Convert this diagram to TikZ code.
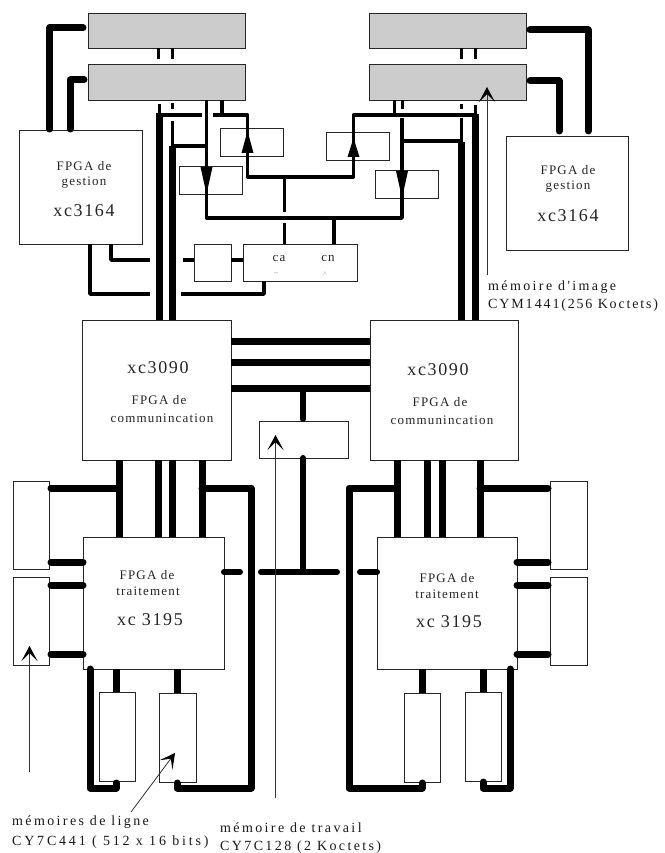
\documentclass[tikz,border=0pt]{standalone}
\usepackage{fontspec}
\setmainfont[LetterSpace=9]{Liberation Serif}
\newfontfamily\captf[LetterSpace=17]{Liberation Serif}
\newfontfamily\captn[LetterSpace=13]{Liberation Serif}
\newfontfamily\captw[LetterSpace=20]{Liberation Serif}
\usetikzlibrary{arrows.meta}
\newcommand\NW[3]{([shift={(#2,#3)}]#1.north west)}
\tikzset{
  x=1pt,y=-1pt,
  boxa/.style={draw=black!85,line width=0.9pt,fill=white,anchor=north west,inner sep=0pt,outer sep=0pt,minimum width=#1},
  grayb/.style={draw=black!85,line width=0.9pt,fill=black!20,anchor=north west,inner sep=0pt,outer sep=0pt,minimum width=157pt},
  busw/.style={line width=7pt,line cap=round,line join=round},
  busm/.style={line width=6pt,line cap=round,line join=round},
  wire/.style={line width=3.6pt,line join=round},
  dashw/.style={line width=3pt},
  plain/.style={line width=7pt},
  pointer/.style={line width=0.8pt,draw=black!80,-{Stealth[length=15pt,width=16pt,inset=8pt,black]}},
  head/.style={fill=black},
  lab/.style={font=\fontsize{13}{13}\selectfont,inner sep=0pt,text=black!85},
  labb/.style={font=\fontsize{18}{18}\selectfont,inner sep=0pt,text=black!85},
  capt/.style={font=\captf\fontsize{14}{14}\selectfont,inner sep=0pt,anchor=west,text=black!90},
  captb/.style={font=\captn\fontsize{14}{14}\selectfont,inner sep=0pt,anchor=west,text=black!90},
  captc/.style={font=\captw\fontsize{14}{14}\selectfont,inner sep=0pt,anchor=west,text=black!90},
}
\begin{document}
\begin{tikzpicture}
\useasboundingbox (0,0) rectangle (664,853);
% boxes
\node[grayb,minimum height=35pt] (gA) at (88,13) {};
\node[grayb,minimum height=36pt] (gB) at (88,64) {};
\node[grayb,minimum height=35pt] (gC) at (369,13) {};
\node[grayb,minimum height=36pt] (gD) at (369,64) {};
\node[boxa=123pt,minimum height=114pt] (gestL) at (19,130) {};
\node[boxa=122pt,minimum height=114pt] (gestR) at (506,136) {};
\node[boxa=149pt,minimum height=140pt] (comL) at (82,320) {};
\node[boxa=148pt,minimum height=140pt] (comR) at (370,320) {};
\node[boxa=141pt,minimum height=132pt] (trL) at (83,537) {};
\node[boxa=140pt,minimum height=132pt] (trR) at (377,537) {};
\node[boxa=36pt,minimum height=88pt] (sLa) at (13,481) {};
\node[boxa=36pt,minimum height=88pt] (sLb) at (13,577) {};
\node[boxa=37pt,minimum height=88pt] (sRa) at (550,481) {};
\node[boxa=37pt,minimum height=88pt] (sRb) at (550,577) {};
\node[boxa=36pt,minimum height=89pt] (mLa) at (99,692) {};
\node[boxa=37pt,minimum height=89pt] (mLb) at (159,693) {};
\node[boxa=36pt,minimum height=89pt] (mRa) at (404,693) {};
\node[boxa=36pt,minimum height=89pt] (mRb) at (465,692) {};
\node[boxa=89pt,minimum height=37pt] (trav) at (259,421) {};
\node[boxa=37pt,minimum height=37pt] (sq) at (194,244) {};
\node[boxa=114pt,minimum height=37pt] (cc) at (243,244) {};
\node[boxa=63pt,minimum height=28pt] (la) at (220,128) {};
\node[boxa=63pt,minimum height=28pt] (lb) at (179,166) {};
\node[boxa=63pt,minimum height=28pt] (lc) at (326,132) {};
\node[boxa=63pt,minimum height=28pt] (ld) at (375,170) {};
% free ends of the pointers
\coordinate (pa) at (29.5,772);
\coordinate (pb) at (275.5,798);
\coordinate (pc) at (131,812);
\coordinate (pd) at (487,275);
% gestion to memories
\draw[busw] \NW{gestL}{30.5}{-1} |- \NW{gA}{-5}{15};
\draw[busw] \NW{gestL}{51}{-1} |- \NW{gB}{-4}{16};
\draw[busw] \NW{gC}{161}{17} -| \NW{gestR}{82}{-5};
\draw[busw] \NW{gD}{161}{17} -| \NW{gestR}{53}{-5};
% between memories
\draw[dashw] \NW{gA}{70.5}{35} -- \NW{gA}{70.5}{46};
\draw[dashw] \NW{gA}{84.5}{35} -- \NW{gA}{84.5}{46};
\draw[dashw] \NW{gC}{92.5}{35} -- \NW{gC}{92.5}{46};
\draw[dashw] \NW{gC}{106.5}{35} -- \NW{gC}{106.5}{46};
% left memory buses
\draw[dashw] \NW{gB}{71}{40} -- \NW{gB}{71}{50};
\draw[plain] \NW{gB}{71}{49} -- \NW{comL}{77}{0};
\draw[dashw] \NW{gB}{84.5}{39} -- \NW{gB}{84.5}{45};
\draw[dashw] \NW{gB}{84.5}{57} -- \NW{gB}{84.5}{82};
\draw[plain] \NW{comL}{90.5}{-174} -- \NW{comL}{90.5}{0};
\draw[wire] \NW{comL}{90.5}{-174} -- \NW{lb}{27.5}{-20};
\draw[wire] \NW{gB}{71}{51} -- \NW{gB}{114}{51};
% right memory buses
\draw[dashw] \NW{gD}{92}{40} -- \NW{gD}{92}{45};
\draw[dashw] \NW{gD}{92}{54} -- \NW{gD}{92}{78};
\draw[plain] \NW{comR}{91}{-178} -- \NW{comR}{91}{0};
\draw[wire] \NW{ld}{27}{-29} -- \NW{comR}{91}{-179};
\draw[dashw] \NW{gD}{106}{41} -- \NW{gD}{106}{50};
\draw[plain] \NW{gD}{106}{50} -- \NW{comR}{105}{0};
% latch loops
\draw[wire] \NW{gB}{125}{51} -| \NW{la}{27.5}{49} -| \NW{lc}{27.5}{-17} -- \NW{gD}{106}{51};
\draw[wire] \NW{gB}{118.5}{36} |- \NW{ld}{27}{48} -- \NW{ld}{27}{-52};
\draw[wire] \NW{gB}{134}{36} -- \NW{gB}{134}{51};
\draw[wire] \NW{gD}{25.5}{36} -- \NW{gD}{25.5}{51};
\draw[wire] \NW{gD}{33.5}{36} -- \NW{gD}{33.5}{45};
\fill[head] \NW{la}{27.5}{3} -- \NW{la}{33.5}{25} -- \NW{la}{21.5}{25} -- cycle;
\fill[head] \NW{lc}{27.5}{6} -- \NW{lc}{33.5}{25} -- \NW{lc}{21.5}{25} -- cycle;
\fill[head] \NW{lb}{27.5}{28} -- \NW{lb}{33.5}{1} -- \NW{lb}{21.5}{1} -- cycle;
\fill[head] \NW{ld}{27}{28} -- \NW{ld}{33}{1} -- \NW{ld}{21}{1} -- cycle;
% into the ca/cn block
\draw[dashw] \NW{cc}{41}{-67} -- \NW{cc}{41}{-32};
\draw[dashw] \NW{cc}{41}{-21} -- \NW{cc}{41}{0};
\draw[wire] \NW{cc}{91}{-26} -- \NW{cc}{91}{0};
\draw[wire] \NW{cc}{21}{37} |- \NW{cc}{-62}{50};
\draw[wire] \NW{gestL}{71}{114} |- \NW{gestL}{131}{164};
\draw[wire] \NW{gestL}{92}{114} |- \NW{gestL}{131}{130};
\draw[wire] \NW{sq}{-11}{16} -- \NW{sq}{0}{16};
\draw[wire] \NW{sq}{37}{16} -- \NW{cc}{0}{16};
% communication links
\draw[plain] \NW{comL}{149}{21} -- \NW{comR}{0}{21};
\draw[plain] \NW{comL}{149}{42} -- \NW{comR}{0}{42};
\draw[plain] \NW{comL}{149}{68} -- \NW{comR}{0}{68};
\draw[busm] \NW{comL}{221}{68} -- \NW{trav}{44}{-2};
\draw[busm] \NW{trav}{44}{37} -- \NW{trav}{44}{151};
\draw[busm] \NW{trav}{2}{151} -- \NW{trav}{78}{151};
\draw[busm] \NW{trL}{141}{35} -- \NW{trL}{157}{35};
\draw[busm] \NW{trR}{-17}{35} -- \NW{trR}{0}{35};
% lower left
\draw[plain] \NW{comL}{37}{140} -- \NW{trL}{36}{0};
\draw[plain] \NW{comL}{76}{140} -- \NW{trL}{75}{0};
\draw[plain] \NW{comL}{90.5}{140} -- \NW{trL}{89.5}{0};
\draw[plain] \NW{comL}{120}{140} -- \NW{trL}{119}{0};
\draw[busw] \NW{comL}{37}{168} -- \NW{sLa}{38}{7};
\draw[busw] \NW{comL}{120}{168} -| \NW{trL}{168}{251} -- \NW{trL}{94}{251} -- \NW{mLb}{18}{90};
\draw[busw] \NW{trL}{7}{132} -- \NW{trL}{7}{251} -- \NW{mLa}{17}{96} -- \NW{mLa}{17}{91};
\draw[plain] \NW{trL}{33}{132} -- \NW{mLa}{17}{0};
\draw[plain] \NW{trL}{94}{132} -- \NW{mLb}{18}{0};
\draw[busw] \NW{sLa}{38}{81} -- \NW{trL}{0}{25};
\draw[busw] \NW{sLb}{38}{8} -- \NW{trL}{0}{48};
\draw[busw] \NW{sLb}{38}{77} -- \NW{trL}{0}{117};
% lower right
\draw[plain] \NW{comR}{27}{140} -- \NW{trR}{20}{0};
\draw[plain] \NW{comR}{57}{140} -- \NW{trR}{50}{0};
\draw[plain] \NW{comR}{72}{140} -- \NW{trR}{65}{0};
\draw[plain] \NW{comR}{110}{140} -- \NW{trR}{103}{0};
\draw[busw] \NW{comR}{110}{168} -- \NW{sRa}{-2}{7};
\draw[busw] \NW{comR}{27}{168} -| \NW{trR}{-28}{251} -- \NW{mRa}{18}{95} -- \NW{mRa}{18}{90};
\draw[busw] \NW{trR}{133}{132} -- \NW{trR}{133}{251} -- \NW{mRb}{18}{96} -- \NW{mRb}{18}{90};
\draw[plain] \NW{trR}{45}{132} -- \NW{mRa}{18}{0};
\draw[plain] \NW{trR}{106}{132} -- \NW{mRb}{18}{0};
\draw[busw] \NW{trR}{140}{25} -- \NW{sRa}{-2}{81};
\draw[busw] \NW{trR}{140}{48} -- \NW{sRb}{-2}{8};
\draw[busw] \NW{trR}{140}{117} -- \NW{sRb}{-2}{77};
% pointers
\draw[pointer] (pa) -- \NW{sLb}{16.5}{69};
\draw[pointer] (pb) -- \NW{trav}{16.5}{14};
\draw[pointer] (pc) -- \NW{mLb}{16}{60};
\draw[pointer] (pd) -- \NW{gD}{118}{23};
% block labels
\node[lab] (t1) at (84,166) {FPGA de};
\node[lab] (t2) at (84,183) {gestion};
\node[labb] (t3) at (84,211) {xc3164};
\node[lab] (t4) at (568,170) {FPGA de};
\node[lab] (t5) at (568,187) {gestion};
\node[labb] (t6) at (568,216) {xc3164};
\node[labb] (t7) at (158,368) {xc3090};
\node[lab] (t8) at (159,400) {FPGA de};
\node[lab] (t9) at (162,418) {communincation};
\node[labb] (t10) at (438,370) {xc3090};
\node[lab] (t11) at (440,402) {FPGA de};
\node[lab] (t12) at (442,420) {communincation};
\node[lab] (t13) at (147,575) {FPGA de};
\node[lab] (t14) at (148,591) {traitement};
\node[labb] (t15) at (150,620) {xc 3195};
\node[lab] (t16) at (447,578) {FPGA de};
\node[lab] (t17) at (447,594) {traitement};
\node[labb] (t18) at (449,622) {xc 3195};
\node[lab] (t19) at (279,258) {ca};
\node[lab] (t20) at (328,258) {cn};
\node[lab,font=\fontsize{7}{7}\selectfont,text=black!50] (t21) at (276,274) {\textasciitilde};
\node[lab,font=\fontsize{7}{7}\selectfont,text=black!50] (t22) at (325,274) {\textasciicircum};
% captions
\node[capt] (c1) at (488,287) {mémoire d'image};
\node[captb] (c2) at (488,305) {CYM1\,441(256 Koctets)};
\node[capt] (c3) at (12,822) {mémoires de ligne};
\node[captc] (c4) at (12,842) {CY7C441 ( 512 x 16 bits)};
\node[capt] (c5) at (220,828) {mémoire de travail};
\node[capt] (c6) at (220,847) {CY7C128 (2 Koctets)};
\end{tikzpicture}
\end{document}
